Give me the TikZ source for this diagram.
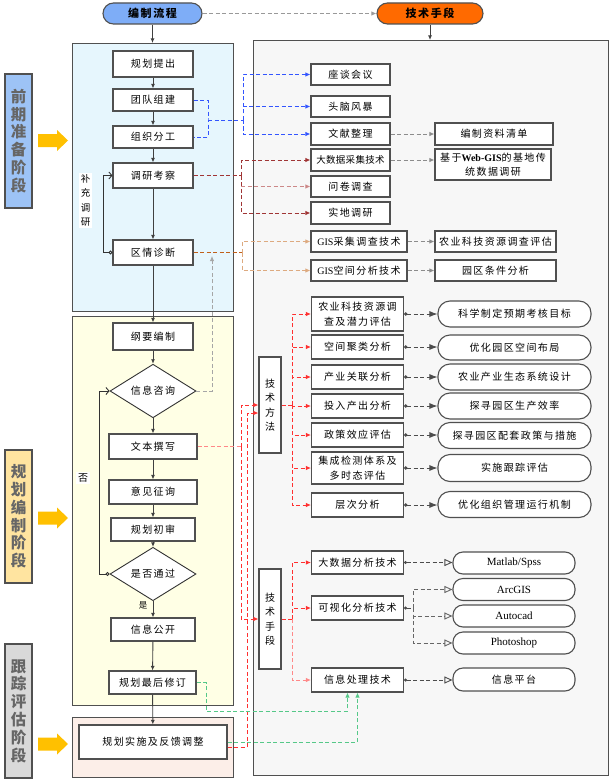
\documentclass[tikz,border=0pt]{standalone}
\usepackage{fontspec}
\setmainfont{Noto Sans CJK SC}[LetterSpace=14]
\newfontfamily\lat{Liberation Serif}
\newfontfamily\tight{Noto Sans CJK SC}[LetterSpace=3]
\usetikzlibrary{arrows.meta,shapes.geometric,calc}
\definecolor{bpanel}{HTML}{E6F6FD}
\definecolor{ypanel}{HTML}{FFFFE5}
\definecolor{ppanel}{HTML}{FCEEE8}
\definecolor{gpanel}{HTML}{F7F7F7}
\definecolor{pillblue}{HTML}{7EADF7}
\definecolor{pillorange}{HTML}{FF6A00}
\definecolor{stblue}{HTML}{9DC3F6}
\definecolor{styellow}{HTML}{FFE4A0}
\definecolor{stgray}{HTML}{D9D9D9}
\definecolor{arrowyellow}{HTML}{FFC000}
\definecolor{lblue}{HTML}{3355FF}
\definecolor{dred}{HTML}{A03535}
\definecolor{dredl}{HTML}{CC8888}
\definecolor{brn}{HTML}{C0601A}
\definecolor{brnl}{HTML}{DDAA80}
\definecolor{rd}{HTML}{FF3030}
\definecolor{rdl}{HTML}{FF8888}
\definecolor{grn}{HTML}{55C888}
\definecolor{edge}{HTML}{505050}
\begin{document}
\begin{tikzpicture}[x=1pt,y=-1pt,
 box/.style={draw=edge, line width=1.1pt, fill=white, inner sep=0pt, align=center, font=\fontsize{10}{14.5}\selectfont},
 rbox/.style={box, rounded corners=10pt},
 dia/.style={draw=black!80, line width=0.9pt, fill=white, diamond, inner sep=0pt, font=\fontsize{10}{14.5}\selectfont},
 pill/.style={draw=edge, line width=1.1pt, rounded corners=10.5pt, inner sep=0pt, font=\fontsize{11}{13}\selectfont\bfseries},
 panel/.style={draw=edge, line width=1.2pt, inner sep=0pt, anchor=north west},
 stage/.style={draw=edge, line width=1.2pt, inner sep=0pt, align=center, text=black!60, font=\fontsize{15.5}{17.8}\selectfont\bfseries, minimum width=27pt},
 flow/.style={draw=black!75, line width=0.9pt, -{Latex[length=4.5pt,width=4pt]}},
 dsh/.style={dash pattern=on 4pt off 2.5pt, line width=0.9pt},
 arw/.style={-{Latex[length=5pt,width=4.5pt]}},
 res/.style={dsh, draw=black!70, {Circle[length=3.5pt]}-{Latex[length=8pt,width=6pt]}},
 tool/.style={dsh, draw=black!70, {Circle[length=3pt]}-{Triangle[open,length=8pt,width=7pt]}},
 backloop/.style={draw=black!80, line width=0.9pt, {Circle[open,length=4pt]}-{Straight Barb[length=3pt,width=7pt]}},
]
\useasboundingbox (0,0) rectangle (614,781);

% panels
\node[panel, fill=gpanel, minimum width=355pt, minimum height=735pt] (pg) at (253,40) {};
\node[panel, fill=bpanel, minimum width=161pt, minimum height=268pt] (pb) at (72,43) {};
\node[panel, fill=ypanel, minimum width=161pt, minimum height=389pt] (py) at (72,316) {};
\node[panel, fill=ppanel, minimum width=161pt, minimum height=60pt] (pp) at (72,717) {};

% pills
\node[pill, fill=pillblue, minimum width=99pt, minimum height=21pt] (p1) at (152.5,13.5) {编制流程};
\node[pill, fill=pillorange, minimum width=106pt, minimum height=21pt] (p2) at (430,13.5) {技术手段};
\draw[dsh, draw=gray!80, -{Latex[length=5pt,width=4.5pt]}] (p1.east) -- (p2.west);
\draw[flow] (p1.south) -- (p1.south |- pb.north);
\draw[flow] (p2.south) -- (p2.south |- pg.north);

% stages
\node[stage, fill=stblue, minimum height=134pt] (s1) at (18.5,141) {前\\期\\准\\备\\阶\\段};
\node[stage, fill=styellow, minimum height=133pt] (s2) at (18.5,516.5) {规\\划\\编\\制\\阶\\段};
\node[stage, fill=stgray, minimum height=134pt] (s3) at (18.5,711) {跟\\踪\\评\\估\\阶\\段};
\foreach \c in {140.5,518,744}{
  \fill[arrowyellow] (38,\c-6.5) -- (57,\c-6.5) -- (57,\c-10.5) -- (68,\c) -- (57,\c+10.5) -- (57,\c+6.5) -- (38,\c+6.5) -- cycle;
}

% left column
\node[box, minimum width=80pt, minimum height=26pt] (b1) at (153,64) {规划提出};
\node[box, minimum width=80pt, minimum height=22pt] (b2) at (153,100) {团队组建};
\node[box, minimum width=80pt, minimum height=22pt] (b3) at (153,137) {组织分工};
\node[box, minimum width=80pt, minimum height=25pt] (b4) at (153,175.5) {调研考察};
\node[box, minimum width=80pt, minimum height=25pt] (b5) at (153,252.5) {区情诊断};
\node[box, minimum width=80pt, minimum height=27pt] (b6) at (153,336.5) {纲要编制};
\node[dia, minimum width=86pt, minimum height=40pt] (d1) at (153,391) {信息咨询};
\node[box, minimum width=88pt, minimum height=25pt] (b7) at (153,446.5) {文本撰写};
\node[box, minimum width=88pt, minimum height=24pt] (b8) at (153,492) {意见征询};
\node[box, minimum width=84pt, minimum height=23pt] (b9) at (153,529.5) {规划初审};
\node[dia, minimum width=86pt, minimum height=34pt] (d2) at (153,574) {是否通过};
\node[box, minimum width=84pt, minimum height=23pt] (b10) at (153,629.5) {信息公开};
\node[box, minimum width=87pt, minimum height=23pt] (b11) at (152.5,682.5) {规划最后修订};
\node[box, minimum width=148pt, minimum height=34pt] (b12) at (153,742) {规划实施及反馈调整};

\draw[flow] (b1) -- (b2);
\draw[flow] (b2) -- (b3);
\draw[flow] (b3) -- (b4);
\draw[flow] (b4) -- (b5);
\draw[flow] (b5) -- (b6);
\draw[flow] (b6) -- (d1);
\draw[flow] (d1) -- (b7);
\draw[flow] (b7) -- (b8);
\draw[flow] (b8) -- (b9);
\draw[flow] (b9) -- (d2);
\draw[flow] (d2) -- (b10);
\draw[flow] (b10) -- (b11);
\draw[flow] (b11) -- (b12);

\draw[backloop] (b5.west) -- ++(-9,0) |- (b4.west);
\draw[backloop] (d2.west) -- ++(-10,0) |- (d1.west);
\node[fill=white, inner sep=1.5pt, align=center, font=\fontsize{9.5}{14.5}\selectfont] (lb1) at (85.5,200.5) {补\\充\\调\\研};
\node[fill=white, inner sep=2pt, font=\fontsize{10}{12}\selectfont] (lb2) at (83,478) {否};
\node[inner sep=1pt, font=\fontsize{8.5}{10}\selectfont] (lb3) at (143,605) {是};

% right upper boxes
\node[box, minimum width=79pt, minimum height=21pt] (r1) at (350.5,74.5) {座谈会议};
\node[box, minimum width=79pt, minimum height=21pt] (r2) at (350.5,106.5) {头脑风暴};
\node[box, minimum width=79pt, minimum height=22pt] (r3) at (350.5,134) {文献整理};
\node[box, minimum width=79pt, minimum height=22pt, font=\tight\fontsize{9.5}{12}\selectfont] (r4) at (350.5,160) {大数据采集技术};
\node[box, minimum width=79pt, minimum height=21pt] (r5) at (350.5,186.5) {问卷调查};
\node[box, minimum width=79pt, minimum height=22pt] (r6) at (350.5,213) {实地调研};
\node[box, minimum width=96pt, minimum height=21pt] (r7) at (359,241.5) {{\lat GIS}采集调查技术};
\node[box, minimum width=96pt, minimum height=21pt] (r8) at (359,270.5) {{\lat GIS}空间分析技术};

\node[box, minimum width=118pt, minimum height=22pt] (q1) at (494,134) {编制资料清单};
\node[box, minimum width=116pt, minimum height=31pt] (q2) at (493,164.5) {基于{\lat\bfseries Web-GIS}的基地传\\统数据调研};
\node[box, minimum width=121pt, minimum height=21pt] (q3) at (495.5,241.5) {农业科技资源调查评估};
\node[box, minimum width=121pt, minimum height=21pt] (q4) at (495.5,270.5) {园区条件分析};

\draw[dsh, draw=gray!90, arw] (r3.east) -- (r3.east -| q1.west);
\draw[dsh, draw=gray!90, arw] (r4.east) -- (r4.east -| q2.west);
\draw[dsh, draw=gray!90, arw] (r7.east) -- (r7.east -| q3.west);
\draw[dsh, draw=gray!90, arw] (r8.east) -- (r8.east -| q4.west);

% blue connectors
\coordinate (bj) at (208,120);
\coordinate (bv) at (243,120);
\draw[dsh, lblue] (b2.east) -| (bj) |- (b3.east);
\draw[dsh, lblue] (bj) -- (bv);
\draw[dsh, lblue, arw] (bv) |- (r1.west);
\draw[dsh, lblue, arw] (bv) |- (r2.west);
\draw[dsh, lblue, arw] (bv) |- (r3.west);

% dark red connectors
\coordinate (dv) at (241,175.5);
\draw[dsh, dred] (b4.east) -- (dv);
\draw[dsh, dred, arw] (dv) |- (r4.west);
\draw[dsh, dred, arw] (dv) |- (r6.west);
\draw[dsh, dredl, arw] (dv |- r5.west) -- (r5.west);

% brown connectors
\coordinate (wv) at (242,252.5);
\draw[dsh, brn] (b5.east) -- (wv);
\draw[dsh, brnl, arw] (wv) |- (r7.west);
\draw[dsh, brnl, arw] (wv) |- (r8.west);

% grey from 信息咨询
\coordinate (gq) at (212,256);
\draw[dsh, draw=gray!70, arw] (d1.east) -| (gq);

% method section
\node[box, minimum width=22pt, minimum height=96pt] (tm1) at (270,405) {技\\术\\方\\法};
\node[box, minimum width=22pt, minimum height=100pt] (tm2) at (270,619) {技\\术\\手\\段};

\node[box, minimum width=92pt, minimum height=34pt] (m1) at (357.5,314) {农业科技资源调\\查及潜力评估};
\node[box, minimum width=92pt, minimum height=24pt] (m2) at (357.5,347) {空间聚类分析};
\node[box, minimum width=92pt, minimum height=24pt] (m3) at (357.5,377) {产业关联分析};
\node[box, minimum width=92pt, minimum height=24pt] (m4) at (357.5,406) {投入产出分析};
\node[box, minimum width=92pt, minimum height=24pt] (m5) at (357.5,435) {政策效应评估};
\node[box, minimum width=92pt, minimum height=32pt] (m6) at (357.5,468) {集成检测体系及\\多时态评估};
\node[box, minimum width=92pt, minimum height=24pt] (m7) at (357.5,505) {层次分析};

\node[rbox, minimum width=153pt, minimum height=26pt, rounded corners=12pt] (e1) at (514.5,314) {科学制定预期考核目标};
\node[rbox, minimum width=153pt, minimum height=25pt, rounded corners=12pt] (e2) at (514.5,347.5) {优化园区空间布局};
\node[rbox, minimum width=153pt, minimum height=26pt, rounded corners=12pt] (e3) at (514.5,377) {农业产业生态系统设计};
\node[rbox, minimum width=153pt, minimum height=26pt, rounded corners=12pt] (e4) at (514.5,406) {探寻园区生产效率};
\node[rbox, minimum width=153pt, minimum height=26pt, rounded corners=12pt] (e5) at (514.5,435.5) {探寻园区配套政策与措施};
\node[rbox, minimum width=153pt, minimum height=27pt, rounded corners=12pt] (e6) at (514.5,468) {实施跟踪评估};
\node[rbox, minimum width=153pt, minimum height=26pt, rounded corners=12pt] (e7) at (514.5,504.5) {优化组织管理运行机制};

\foreach \i in {1,...,7}{
  \draw[res] (m\i.east) -- (m\i.east -| e\i.west);
}

\coordinate (mv) at (292,405);
\draw[dsh, rd] (tm1.east) -- (mv);
\foreach \i in {1,...,7}{
  \draw[dsh, rd, arw] (mv) |- (m\i.west);
}

% tools
\node[box, minimum width=92pt, minimum height=23pt] (t1) at (357.5,562.5) {大数据分析技术};
\node[box, minimum width=92pt, minimum height=24pt] (t2) at (357.5,608) {可视化分析技术};
\node[box, minimum width=92pt, minimum height=24pt] (t3) at (357.5,680) {信息处理技术};

\node[rbox, minimum width=122pt, minimum height=22pt, font=\lat\fontsize{11}{13}\selectfont] (o1) at (514,563) {Matlab/Spss};
\node[rbox, minimum width=122pt, minimum height=22pt, font=\lat\fontsize{11}{13}\selectfont] (o2) at (514,589.5) {ArcGIS};
\node[rbox, minimum width=122pt, minimum height=22pt, font=\lat\fontsize{11}{13}\selectfont] (o3) at (514,616) {Autocad};
\node[rbox, minimum width=122pt, minimum height=22pt, font=\lat\fontsize{11}{13}\selectfont] (o4) at (514,643) {Photoshop};
\node[rbox, minimum width=122pt, minimum height=23pt] (o5) at (514,679.5) {信息平台};

\draw[tool] (t1.east) -- (t1.east -| o1.west);
\coordinate (tv) at (413,608);
\draw[dsh, draw=black!70, {Circle[length=3pt]}-] (t2.east) -- (tv);
\draw[dsh, draw=black!60, -{Triangle[open,length=8pt,width=7pt]}] (tv) |- (o2.west);
\draw[dsh, draw=black!60, -{Triangle[open,length=8pt,width=7pt]}] (tv) |- (o3.west);
\draw[dsh, draw=black!60, -{Triangle[open,length=8pt,width=7pt]}] (tv) |- (o4.west);
\draw[tool] (t3.east) -- (t3.east -| o5.west);

\coordinate (tv2) at (292,619);
\draw[dsh, rd] (tm2.east) -- (tv2);
\draw[dsh, rd, arw] (tv2) |- (t1.west);
\draw[dsh, rd, arw] (tv2) |- (t2.west);
\draw[dsh, rdl, arw] (tv2) |- (t3.west);

% red links from left column
\coordinate (rv1) at (241,446.5);
\draw[dsh, rdl] (b7.east) -- (rv1);
\draw[dsh, rd, arw] (rv1) |- (tm1.west);
\draw[dsh, rd, arw] (rv1) |- (tm2.west);
\coordinate (rv2) at (247,747);
\draw[dsh, rd] ([yshift=-5pt]b12.east) -- (rv2);
\draw[dsh, rd, arw] (rv2) |- ([yshift=-8pt]tm1.west);

% green links
\coordinate (gj) at (206,711);
\draw[dsh, grn, arw] (b11.east) -| (gj) -| ([xshift=-10pt]t3.south);
\draw[dsh, grn, arw] (b12.east) -| (t3.south);

\end{tikzpicture}
\end{document}
